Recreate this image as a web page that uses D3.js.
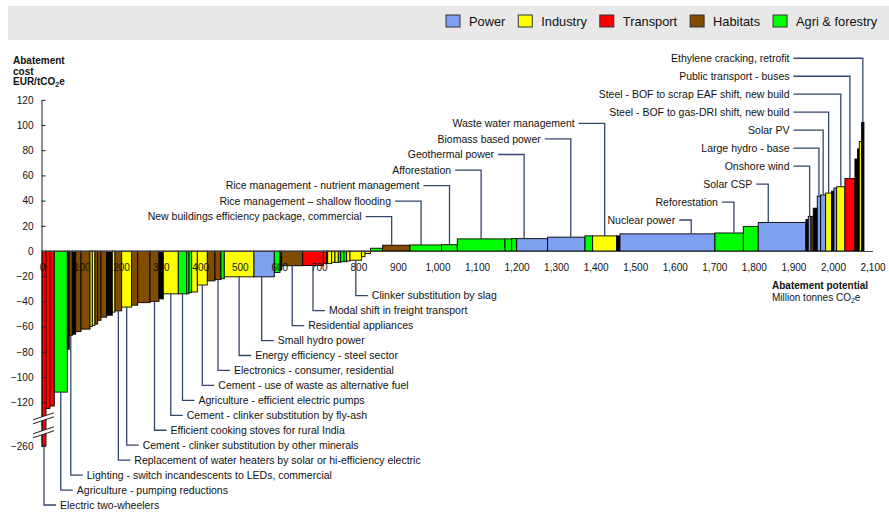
<!DOCTYPE html>
<html>
<head>
<meta charset="utf-8">
<script src="https://cdn.jsdelivr.net/npm/d3@7"></script>
<style>
body { margin: 0; background: #fff; }
svg text { font-family: "Liberation Sans", Arial, sans-serif; }
</style>
</head>
<body>
<script>
/* global d3 */

// Data
const sectors = ['Power', 'Industry', 'Transport', 'Habitats', 'Agri & forestry'];
const sectorCodes = ['P', 'I', 'T', 'H', 'A'];

// abatement potential of each lever, Mt CO2e (bar widths, left to right)
const potentials = [
    10.1, 10.1, 10.9, 32.9, 5.0, 7.6, 8.6, 13.4, 22.8, 5.8,
    6.8, 6.8, 8.4, 14.4, 14.2, 6.8, 16.9, 25.3, 15.2, 31.1,
    22.7, 10.9, 37.9, 21.3, 5.8, 6.8, 14.2, 25.3, 19.4, 15.2,
    8.3, 75.1, 51.4, 14.4, 4.3, 53.1, 52.1, 8.5, 2.6, 10.1,
    8.3, 8.4, 6.1, 8.3, 6.8, 8.4, 29.5, 8.4, 13.9, 30.8,
    69.1, 80.1, 39.5, 120.6, 16.9, 12.7, 78.3, 94.4, 19.4, 60.7,
    8.4, 240.1, 71.7, 37.8, 120.6, 5.9, 6.8, 5.8, 10.1, 8.6,
    12.6, 15.2, 5.8, 6.9, 20.9, 25.3, 6.4, 4.5, 6.1, 5.8
];

// abatement cost, EUR/tCO2e
const costs = [
    -260, -125, -123, -112, -78, -67, -66, -64, -62, -60,
    -59, -58, -55, -52.5, -51, -48.5, -47.5, -44.5, -43, -41,
    -40, -38, -34, -34, -34, -33, -32.5, -27, -23.7, -22.7,
    -22, -20.5, -20.5, -17, -15, -11.7, -11.5, -10, -10, -10,
    -9, -9, -9, -8.5, -8.5, -8, -7.3, -4.5, -2, 2.2,
    4.6, 4.8, 5.0, 9.6, 9.6, 9.8, 9.8, 11, 12, 12,
    12, 13.6, 14.3, 19.5, 22.7, 25, 27.5, 27.5, 34, 43.5,
    44.5, 46, 47.5, 50, 51, 57.6, 73, 81, 87, 102
];

// sector of each lever (X = other, drawn black)
const barSectors = [
    'T', 'T', 'T', 'A', 'X', 'H', 'X', 'H', 'H', 'I',
    'I', 'H', 'H', 'H', 'X', 'I', 'H', 'I', 'H', 'H',
    'H', 'X', 'I', 'A', 'A', 'A', 'I', 'I', 'H', 'H',
    'A', 'I', 'P', 'A', 'X', 'H', 'T', 'T', 'X', 'I',
    'I', 'I', 'A', 'A', 'A', 'I', 'I', 'I', 'I', 'A',
    'H', 'A', 'A', 'A', 'A', 'A', 'P', 'P', 'A', 'I',
    'X', 'P', 'A', 'A', 'P', 'X', 'P', 'H', 'X', 'P',
    'P', 'I', 'X', 'P', 'I', 'T', 'X', 'X', 'I', 'X'
];

// labelled levers: [bar index, name]
const labelsBelow = [
    [0, 'Electric two-wheelers'],
    [3, 'Agriculture - pumping reductions'],
    [5, 'Lighting - switch incandescents to LEDs, commercial'],
    [16, 'Replacement of water heaters by solar or hi-efficiency electric'],
    [17, 'Cement - clinker substitution by other minerals'],
    [20, 'Efficient cooking stoves for rural India'],
    [22, 'Cement - clinker substitution by fly-ash'],
    [23, 'Agriculture - efficient electric pumps'],
    [27, 'Cement - use of waste as alternative fuel'],
    [29, 'Electronics - consumer, residential'],
    [31, 'Energy efficiency - steel sector'],
    [32, 'Small hydro power'],
    [35, 'Residential appliances'],
    [36, 'Modal shift in freight transport'],
    [46, 'Clinker substitution by slag']
];
const labelsAbove = [
    [50, 'New buildings efficiency package, commercial'],
    [51, 'Rice management \u2013 shallow flooding'],
    [52, 'Rice management - nutrient management'],
    [53, 'Afforestation'],
    [56, 'Geothermal power'],
    [57, 'Biomass based power'],
    [59, 'Waste water management']
];
const labelsAboveRight = [
    [61, 'Nuclear power'],
    [62, 'Reforestation'],
    [64, 'Solar CSP'],
    [66, 'Onshore wind'],
    [69, 'Large hydro - base'],
    [70, 'Solar PV'],
    [71, 'Steel - BOF to gas-DRI shift, new build'],
    [74, 'Steel - BOF to scrap EAF shift, new build'],
    [75, 'Public transport - buses'],
    [79, 'Ethylene cracking, retrofit']
];

const xTicks = d3.range(0, 2101, 100);
const yTicks = [120, 100, 80, 60, 40, 20, 0, -20, -40, -60, -80, -100, -120, -260];

// Styles / layout
const width = 889;
const height = 514;
const colors = { P: '#7f9ff0', I: '#ffff00', T: '#ff0000', H: '#7f4c00', A: '#00ff00', X: '#000000' };
const leaderColor = '#34466b';
// where along a bar its leader line lands (fraction of bar width)
const leaderAt = { 32: 0.38, 50: 0.33, 51: 0.35, 56: 0.24, 57: 0.62, 61: 0.75, 62: 0.67, 64: 0.21 };

const svg = d3.select('body')
.append('svg')
.attr('width', width)
.attr('height', height);

// Legend band
svg.append('rect')
.attr('x', 8).attr('y', 6)
.attr('width', width - 8).attr('height', 34)
.attr('fill', '#e8e8e8');

let lx = 446;
sectors.forEach((name, i) => {
    svg.append('rect')
    .attr('x', lx).attr('y', 15)
    .attr('width', 14).attr('height', 12)
    .attr('fill', colors[sectorCodes[i]])
    .attr('stroke', '#333').attr('stroke-width', 1);
    const t = svg.append('text')
    .attr('x', lx + 23).attr('y', 25.5)
    .attr('font-size', '12.8px')
    .attr('fill', '#111')
    .text(name);
    lx += 23 + t.node().getComputedTextLength() + 13;
});

// Scales
const xScale = d3.scaleLinear()
.domain([0, 2100])
.range([42, 872.5]);

// broken axis: -130 .. -260 squeezed below the break
const yScale = d3.scaleLinear()
.domain([-260, -130, 120])
.range([446, 414.8, 99.8]);

const starts = potentials.map((d, i) => d3.sum(potentials.slice(0, i)));
const y0 = yScale(0);

// Bars
svg.selectAll('rect.bar')
.data(costs)
.enter()
.append('rect')
.attr('class', 'bar')
.attr('x', (d, i) => xScale(starts[i]))
.attr('width', (d, i) => xScale(starts[i] + potentials[i]) - xScale(starts[i]))
.attr('y', d => Math.min(yScale(d), y0))
.attr('height', d => Math.abs(yScale(d) - y0))
.attr('fill', (d, i) => colors[barSectors[i]])
.attr('stroke', '#000')
.attr('stroke-width', 0.9);

function leaderX(i) {
    const f = leaderAt[i] !== undefined ? leaderAt[i] : 0.5;
    return xScale(starts[i] + potentials[i] * f);
}

// Axes
const yAxis = svg.append('g')
.attr('transform', 'translate(41.5,0)')
.call(d3.axisLeft(yScale).tickValues(yTicks).tickSizeInner(-4).tickSizeOuter(0).tickPadding(8));
yAxis.selectAll('text').attr('font-size', '10px').attr('fill', '#111')
.style('font-family', '"Liberation Sans", Arial, sans-serif');
yAxis.selectAll('line, path').attr('stroke', '#222');

const xAxis = svg.append('g')
.attr('transform', `translate(0,${ y0 })`)
.call(d3.axisBottom(xScale).tickValues(xTicks).tickSize(0).tickPadding(13).tickFormat(d3.format(',')));
xAxis.selectAll('text').attr('font-size', '10px').attr('fill', '#111')
.style('font-family', '"Liberation Sans", Arial, sans-serif');
xAxis.select('path').attr('stroke', '#444').attr('stroke-width', 1.2);

// Axis break on the first bar
[0, 14].forEach(off => {
    const yb = yScale(-130) + 1 + off;
    svg.append('polygon')
    .attr('points', `${ 33 },${ yb + 4 } ${ 54 },${ yb - 3 } ${ 54 },${ yb + 1 } ${ 33 },${ yb + 8 }`)
    .attr('fill', '#fff');
    [0, 4].forEach(d => {
        svg.append('line')
        .attr('x1', 33).attr('y1', yb + 4 + d)
        .attr('x2', 54).attr('y2', yb - 3 + d)
        .attr('stroke', '#222').attr('stroke-width', 1);
    });
});

// Axis titles
const yTitle = svg.append('g').attr('font-size', '10px').attr('font-weight', 'bold').attr('fill', '#111');
yTitle.append('text').attr('x', 13).attr('y', 64).text('Abatement');
yTitle.append('text').attr('x', 13).attr('y', 74.5).text('cost');
const yt = yTitle.append('text').attr('x', 13).attr('y', 85).text('EUR/tCO');
yt.append('tspan').attr('font-size', '7px').attr('dy', 2).text('2');
yt.append('tspan').attr('dy', -2).text('e');

svg.append('text')
.attr('x', 772).attr('y', 289)
.attr('font-size', '10px').attr('font-weight', 'bold').attr('fill', '#111')
.text('Abatement potential');
const xt = svg.append('text')
.attr('x', 772).attr('y', 301)
.attr('font-size', '10px').attr('fill', '#111')
.text('Million tonnes CO');
xt.append('tspan').attr('font-size', '7px').attr('dy', 2).text('2');
xt.append('tspan').attr('dy', -2).text('e');

// Leader labels
const lab = svg.append('g').attr('font-size', '10.5px').attr('fill', '#111');
const lead = svg.append('g').attr('fill', 'none').attr('stroke', leaderColor).attr('stroke-width', 1.3);

labelsBelow.forEach(([i, name], k) => {
    const ly = 505 - k * 14.95;
    const xl = leaderX(i);
    lead.append('path').attr('d', `M${ xl },${ yScale(costs[i]) }V${ ly }H${ xl + 12 }`);
    lab.append('text').attr('x', xl + 16).attr('y', ly + 3.7).text(name);
});

labelsAbove.forEach(([i, name], k) => {
    const ly = 216.7 - k * 15.55;
    const xl = leaderX(i);
    lead.append('path').attr('d', `M${ xl - 26 },${ ly }H${ xl }V${ yScale(costs[i]) }`);
    lab.append('text').attr('x', xl - 30).attr('y', ly + 3.7)
    .attr('text-anchor', 'end').text(name);
});

labelsAboveRight.forEach(([i, name], k) => {
    const ly = 220 - k * 17.97;
    const xl = leaderX(i);
    const te = Math.min(xl - 16, 789.5);
    lead.append('path').attr('d', `M${ te + 4 },${ ly }H${ xl }V${ yScale(costs[i]) }`);
    lab.append('text').attr('x', te).attr('y', ly + 3.7)
    .attr('text-anchor', 'end').text(name);
});
</script>
</body>
</html>
